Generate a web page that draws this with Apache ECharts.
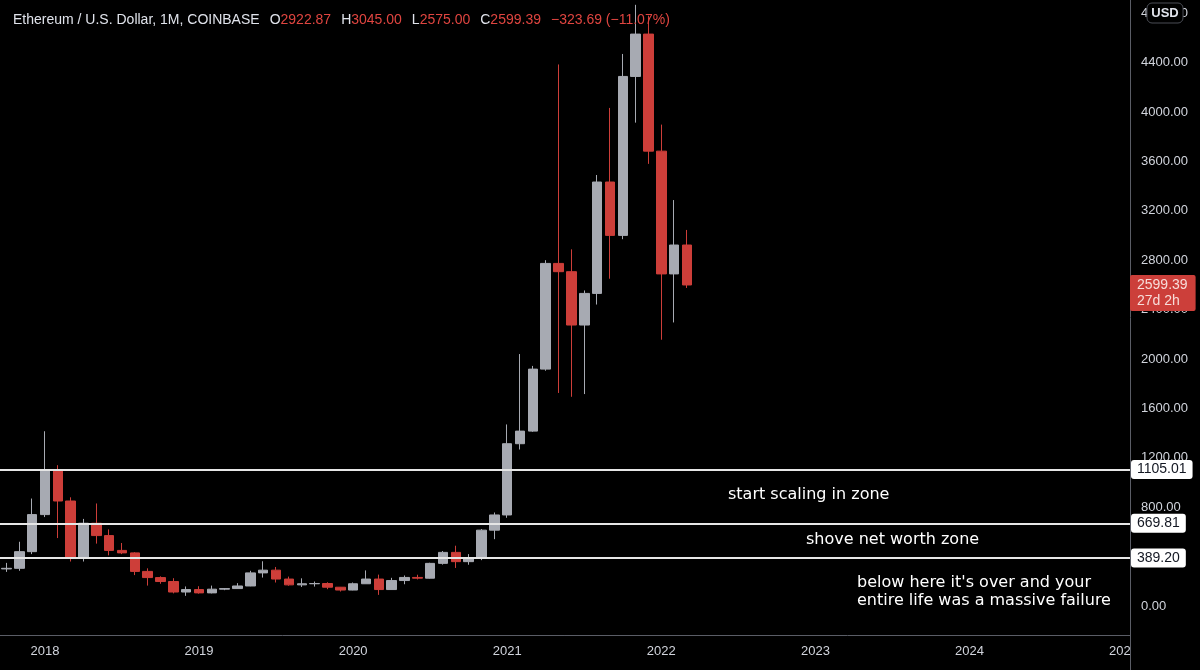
<!DOCTYPE html>
<html>
<head>
<meta charset="utf-8">
<script src="https://cdn.jsdelivr.net/npm/echarts@6/dist/echarts.min.js"></script>
<style>
	html, body { margin: 0; padding: 0; background: #000; }
	#chart { width: 1200px; height: 670px; }
</style>
</head>
<body>
<div id="chart"></div>
<script>
// monthly candles, Oct 2017 .. Mar 2022
var opens = [300, 305, 440, 740, 1100, 850, 385, 670, 570, 450, 430, 280, 230, 198, 113,
	133, 106, 136, 141, 162, 268, 290, 218, 171, 180, 182, 152,
	129, 180, 218, 133, 206, 231, 225, 345, 434, 359, 386, 614,
	737, 1314, 1416, 1918, 2774, 2707, 2275, 2531, 3433, 3001, 4288, 4631,
	3683, 2689, 2922.87];
var closes = [305, 440, 740, 1100, 850, 385, 670, 570, 450, 430, 280, 230, 198, 113, 133,
	106, 136, 141, 162, 268, 290, 218, 171, 180, 182, 152, 129,
	180, 218, 133, 206, 231, 225, 345, 434, 359, 386, 614, 737,
	1314, 1416, 1918, 2774, 2707, 2275, 2531, 3433, 3001, 4288, 4631, 3683,
	2689, 2922.87, 2599.39];
var highs = [349, 520, 870, 1415, 1140, 880, 705, 830, 620, 510, 436, 305, 240, 225, 158,
	160, 165, 145, 185, 285, 362, 316, 238, 224, 198, 192, 154,
	190, 288, 254, 228, 247, 253, 350, 445, 488, 420, 623, 757,
	1470, 2040, 1944, 2800, 4385, 2888, 2555, 3490, 4033, 4470, 4868, 4780,
	3898, 3287, 3045];
var lows = [276, 285, 420, 720, 550, 360, 360, 505, 410, 420, 250, 165, 180, 102, 82,
	100, 102, 128, 140, 160, 230, 190, 164, 154, 157, 136, 117,
	127, 180, 90, 130, 176, 215, 222, 335, 308, 334, 371, 541,
	714, 1267, 1410, 1905, 1725, 1694, 1716, 2441, 2650, 2970, 3914, 3580,
	2156, 2296, 2575];

var levels = [1105.01, 669.81, 389.20];
var lastPrice = 2599.39;
var priceTicks = [0, 400, 800, 1200, 1600, 2000, 2400, 2800, 3200, 3600, 4000, 4400, 4800];

// month categories Oct 2017 .. Jan 2025
var months = [];
(function () {
	var y = 2017, m = 10;
	for (var i = 0; i < 88; i++) {
		months.push(y + '-' + (m < 10 ? '0' + m : m));
		m++;
		if (m > 12) { m = 1; y++; }
	}
})();

var candles = [];
for (var i = 0; i < opens.length; i++) {
	candles.push([opens[i], closes[i], lows[i], highs[i]]);
}

var upColor = '#a7aab2';
var downColor = '#cd3e39';
var textColor = '#d1d4dc';
var lineColor = '#5a5d66';

var dom = document.getElementById('chart');
var myChart = echarts.init(dom);

var levelLines = levels.map(function (v) {
	return {
		yAxis: v,
		lineStyle: { color: '#e6e6e6', width: 2, type: 'solid' },
		label: {
			show: true,
			position: 'end',
			distance: 1,
			formatter: v.toFixed(2),
			backgroundColor: '#ffffff',
			color: '#131722',
			fontSize: 14,
			fontFamily: 'Liberation Sans',
			padding: [3, 6, 2, 6],
			borderRadius: 3
		}
	};
});

// last price tag, no visible line
levelLines.push({
	yAxis: lastPrice,
	lineStyle: { color: 'rgba(0,0,0,0)', width: 0 },
	label: {
		show: true,
		position: 'end',
		distance: 0,
		offset: [0, 8],
		formatter: lastPrice.toFixed(2) + '\n27d 2h',
		backgroundColor: '#cc3f3a',
		color: '#f7dcd9',
		fontSize: 14,
		lineHeight: 16,
		fontFamily: 'Liberation Sans',
		padding: [2, 8, 2, 7],
		borderRadius: 2
	}
});

var option = {
	backgroundColor: '#000000',
	animation: false,
	title: {
		left: 8,
		top: 6,
		text: '{w|Ethereum / U.S. Dollar, 1M, COINBASE}  {w|O}{r|2922.87}  {w|H}{r|3045.00}  {w|L}{r|2575.00}  {w|C}{r|2599.39}  {r|\u2212323.69 (\u221211.07%)}',
		textStyle: {
			fontWeight: 'normal',
			rich: {
				w: { color: '#e0e3eb', fontSize: 14, fontWeight: 'normal', fontFamily: 'Liberation Sans' },
				r: { color: '#e04540', fontSize: 14, fontWeight: 'normal', fontFamily: 'Liberation Sans' }
			}
		}
	},
	grid: { left: 0, right: 70, top: 0, bottom: 35 },
	xAxis: {
		type: 'category',
		data: months,
		boundaryGap: true,
		axisLine: { show: true, onZero: false, lineStyle: { color: lineColor, width: 1 } },
		axisTick: { show: false },
		splitLine: { show: false },
		axisLabel: {
			color: textColor,
			fontSize: 13,
			fontFamily: 'Liberation Sans',
			margin: 10,
			interval: function (idx, val) { return val.slice(5) === '01'; },
			formatter: function (val) { return val.slice(0, 4); }
		}
	},
	yAxis: {
		type: 'value',
		position: 'right',
		min: -235,
		max: 4907,
		scale: false,
		splitLine: { show: false },
		axisLine: { show: true, lineStyle: { color: lineColor, width: 1 } },
		axisTick: { show: false },
		axisLabel: {
			customValues: priceTicks,
			color: textColor,
			fontSize: 13,
			fontFamily: 'Liberation Sans',
			margin: 11,
			formatter: function (v) { return v.toFixed(2); }
		}
	},
	series: [{
		type: 'candlestick',
		data: candles,
		barWidth: 10,
		itemStyle: {
			color: upColor,
			color0: downColor,
			borderColor: upColor,
			borderColor0: downColor,
			borderWidth: 1
		},
		markLine: {
			silent: true,
			symbol: ['none', 'none'],
			data: levelLines
		}
	}],
	graphic: [
		{
			type: 'rect',
			shape: { x: 1131, y: 636, width: 69, height: 34 },
			style: { fill: '#000' },
			z: 50
		},
		{
			type: 'line',
			shape: { x1: 1130.5, y1: 635, x2: 1130.5, y2: 670 },
			style: { stroke: lineColor, lineWidth: 1 },
			z: 51
		},
		{
			type: 'rect',
			shape: { x: 1147, y: 3, width: 36, height: 20, r: 5 },
			style: { fill: '#000', stroke: '#4a4d55', lineWidth: 1 },
			z: 50
		},
		{
			type: 'text',
			style: { x: 1165, y: 13, text: 'USD', fill: '#e0e3eb', font: 'bold 13px "Liberation Sans"', align: 'center', verticalAlign: 'middle' },
			z: 51
		},
		{
			type: 'text',
			style: { x: 728, y: 495, text: 'start scaling in zone', fill: '#ffffff', font: '16px "DejaVu Sans"', verticalAlign: 'middle' },
			z: 40
		},
		{
			type: 'text',
			style: { x: 806, y: 540, text: 'shove net worth zone', fill: '#ffffff', font: '16px "DejaVu Sans"', verticalAlign: 'middle' },
			z: 40
		},
		{
			type: 'text',
			style: { x: 857, y: 592, text: "below here it's over and your\nentire life was a massive failure", fill: '#ffffff', font: '16px "DejaVu Sans"', lineHeight: 18, verticalAlign: 'middle' },
			z: 40
		}
	]
};

if (option && typeof option === "object") {
	myChart.setOption(option, true);
}
</script>
</body>
</html>
